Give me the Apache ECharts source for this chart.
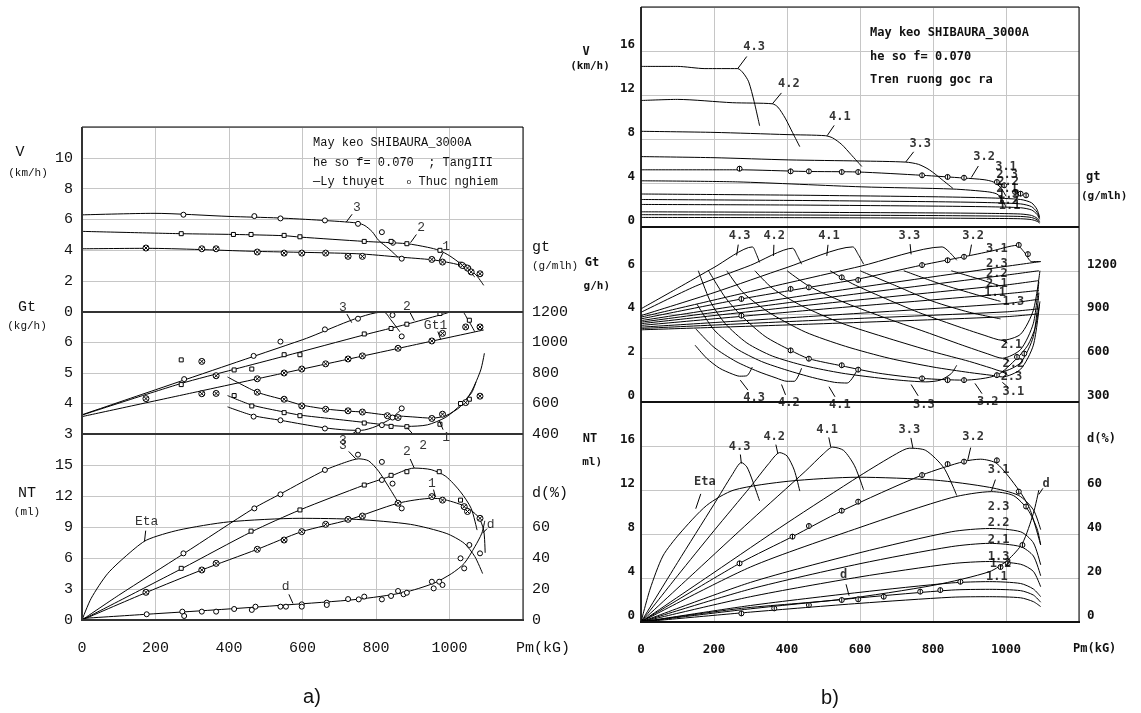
<!DOCTYPE html>
<html><head><meta charset="utf-8">
<script src="https://cdn.jsdelivr.net/npm/echarts/dist/echarts.min.js"></script>
<style>html,body{margin:0;padding:0;background:#fff}#c{width:1141px;height:713px}</style>
</head><body><div id="c"></div>
<script>
const FA='Liberation Mono', FB='DejaVu Sans Mono';
// ---------- tick labels ----------
const pmTicks=[0,200,400,600,800,1000];
const aVTicks=[0,2,4,6,8,10];
const aGtTicks=[3,4,5,6];
const agtTicks=[400,600,800,1000,1200];
const aNTTicks=[0,3,6,9,12,15];
const aDTicks=[0,20,40,60];
const bVTicks=[0,4,8,12,16];
const bGtTicks=[0,2,4,6];
const bgtTicks=[300,600,900,1200];
const bNTTicks=[0,4,8,12,16];
const bDTicks=[0,20,40,60];

// ---------- panel a : V (km/h) ----------
const aV3=[[0,6.3],[196,6.4],[400,6.2],[535,6.1],[650,5.95],[750,5.77],[770,5.6],[790,5.2],[807,4.65],[835,4.1],[860,3.55]];
const aV2=[[0,5.23],[268,5.08],[414,5.03],[550,4.95],[593,4.86],[768,4.58],[884,4.43],[940,4.2],[972,4.0],[1000,3.65],[1030,3.13],[1069,2.27]];
const aV1=[[0,4.1],[176,4.13],[477,3.93],[748,3.78],[865,3.56],[952,3.39],[991,3.24],[1030,3.02],[1069,2.48],[1093,1.73]];
const aV3pts=[[276,6.31],[469,6.22],[540,6.07],[661,5.94],[751,5.72],[816,5.18],[846,4.49],[870,3.46]];
const aV2pts=[[270,5.08],[412,5.03],[460,5.03],[550,4.97],[593,4.88],[768,4.58],[841,4.58],[884,4.43],[974,4.0],[1030,3.1],[1040,2.95],[1052,2.8]];
const aV1pts=[[174,4.15],[326,4.1],[365,4.1],[477,3.89],[550,3.82],[598,3.82],[663,3.82],[724,3.61],[763,3.61],[952,3.41],[981,3.24],[1035,3.02],[1049,2.85],[1059,2.6],[1083,2.48]];
// ---------- panel a : Gt (kg/h) ----------
const aGt3=[[0,3.63],[200,4.45],[400,5.27],[600,6.09],[821,7.0],[840,6.75],[865,6.35]];
const aGt2=[[0,3.62],[268,4.65],[414,5.12],[550,5.55],[768,6.25],[884,6.6],[974,6.9],[1030,7.07],[1050,6.75],[1069,6.35]];
const aGt1=[[0,3.57],[300,4.35],[600,5.13],[900,5.91],[1093,6.41]];
const aGt3pts=[[278,4.8],[467,5.56],[540,6.03],[661,6.43],[751,6.78],[816,7.16],[845,6.9],[870,6.2]];
const aGt2pts=[[270,5.43],[270,4.62],[414,5.1],[462,5.13],[550,5.6],[593,5.6],[768,6.28],[841,6.46],[884,6.6],[974,6.95],[1030,7.16],[1054,6.73]];
const aGt1pts=[[174,4.16],[326,5.38],[326,4.32],[365,4.91],[365,4.33],[477,4.81],[550,5.0],[598,5.13],[663,5.3],[724,5.46],[763,5.56],[860,5.81],[952,6.05],[981,6.3],[1044,6.51],[1083,6.51]];
// ---------- panel a : gt (g/mlh) ----------
const agt1=[[396,774],[477,674],[550,624],[598,590],[663,564],[724,550],[763,544],[831,524],[900,512],[952,504],[990,520],[1030,580],[1060,680],[1085,820],[1095,930]];
const agt2=[[396,652],[462,590],[550,544],[593,524],[680,500],[768,476],[841,456],[884,450],[940,460],[990,510],[1030,590],[1060,670],[1072,740]];
const agt3=[[396,578],[467,520],[540,490],[600,464],[661,440],[720,426],[760,424],[800,450],[840,500],[870,564]];
const agt3pts=[[467,514],[540,490],[661,436],[751,422],[816,458],[845,508],[870,568]];
const agt2pts=[[414,652],[462,584],[550,540],[593,520],[768,472],[841,450],[884,448],[974,464],[1030,600],[1054,628]];
const agt1pts=[[477,674],[550,628],[598,584],[663,562],[724,552],[763,544],[831,520],[860,508],[952,502],[981,530],[1044,606],[1083,648]];
// ---------- panel a : NT (ml), Eta & d (%) ----------
const aNT3=[[0,0],[100,2.4],[276,6.4],[467,10.8],[540,12.2],[661,14.5],[720,15.3],[753,15.6],[780,15.4],[807,14.4],[836,12.8],[860,11.4]];
const aNT2=[[0,0],[273,5.0],[462,8.55],[593,10.65],[768,13.06],[836,13.87],[904,14.7],[950,14.55],[990,13.9],[1030,12.4],[1059,10.8],[1075,8.7]];
const aNT1=[[0,0],[176,2.68],[326,4.84],[477,6.84],[598,8.55],[724,9.68],[860,11.3],[952,11.77],[981,11.7],[1040,11.03],[1078,10.0],[1093,8.7],[1097,6.5]];
const aNT3pts=[[276,6.45],[469,10.8],[540,12.16],[661,14.52],[751,16.0],[816,15.3],[816,13.55],[845,13.2],[870,10.8]];
const aNT2pts=[[270,5.0],[460,8.6],[593,10.65],[768,13.06],[841,14.0],[884,14.35],[972,14.35],[1030,11.6]];
const aNT1pts=[[174,2.68],[326,4.84],[365,5.48],[477,6.84],[550,7.74],[598,8.55],[663,9.26],[724,9.74],[763,10.06],[860,11.3],[952,11.94],[981,11.6],[1040,10.97],[1049,10.5],[1083,9.84]];
const aEta=[[0,0],[25,14],[70,30],[128,43],[176,51.6],[263,58],[399,63.3],[593,65.6],[748,64.9],[894,61.7],[991,55.9],[1040,49.5],[1069,40.9],[1090,30]];
const aD=[[0,1.0],[176,3.7],[360,6.5],[554,9.7],[748,13.3],[875,17.7],[957,23.7],[1006,30],[1040,36.5],[1069,47.3],[1088,56],[1096,64]];
const aDpts=[[176,3.7],[273,5.4],[278,2.6],[326,5.4],[365,5.4],[414,7.1],[462,6.5],[472,8.6],[540,8.6],[555,8.6],[598,10.1],[598,8.6],[666,11.2],[666,9.7],[724,13.5],[753,13.3],[768,15.1],[816,13.3],[841,15.5],[860,18.7],[875,16.6],[884,17.6],[952,24.7],[957,20.4],[972,24.7],[981,22.6],[1030,39.8],[1040,33.3],[1054,48.4],[1083,43]];

// ---------- panel b : V (km/h) per gear ----------
const bV43=[[0,14.6],[100,14.6],[175,14.4],[265,14.4],[280,14.0],[295,13.2],[310,11.4],[325,9.2]];
const bV42=[[0,11.5],[100,11.6],[250,11.3],[360,11.2],[375,10.9],[395,9.9],[415,8.6],[435,7.3]];
const bV41=[[0,8.7],[200,8.6],[400,8.4],[505,8.3],[525,8.1],[550,7.5],[575,6.6],[605,5.5]];
const bV33=[[0,6.4],[200,6.3],[405,6.1],[600,6.0],[725,5.9],[760,5.7],[790,5.2],[825,4.3],[855,3.5]];
const bV32=[[0,5.2],[265,5.2],[450,5.05],[595,5.0],[770,4.7],[885,4.45],[940,4.3],[965,4.1],[985,3.6],[1000,2.8]];
const bV31=[[0,4.2],[265,4.1],[605,3.65],[855,3.45],[950,3.2],[975,3.0],[990,2.5],[1000,1.8]];
const bV23=[[0,3.0],[400,2.9],[800,2.75],[950,2.65],[1040,2.5],[1070,2.2],[1085,1.6],[1092,0.9]];
const bV22=[[0,2.5],[400,2.42],[800,2.3],[950,2.22],[1040,2.1],[1070,1.85],[1085,1.35],[1092,0.8]];
const bV21=[[0,2.05],[400,2.0],[800,1.9],[950,1.84],[1040,1.75],[1070,1.55],[1085,1.15],[1092,0.7]];
const bV13=[[0,1.38],[400,1.34],[800,1.28],[950,1.24],[1040,1.18],[1070,1.05],[1085,0.8],[1092,0.5]];
const bV12=[[0,1.12],[400,1.09],[800,1.04],[950,1.0],[1040,0.96],[1070,0.86],[1085,0.66],[1092,0.42]];
const bV11=[[0,0.87],[400,0.85],[800,0.81],[950,0.78],[1040,0.75],[1070,0.67],[1085,0.52],[1092,0.35]];
const bVpts=[[270,5.3],[410,5.06],[460,5.06],[550,5.0],[595,5.0],[770,4.7],[840,4.55],[885,4.48],[975,4.09],[995,3.79],[1025,3.18],[1040,3.03],[1055,2.88]];
// ---------- panel b : Gt (kg/h) per gear ----------
const bGt43=[[0,4.26],[100,5.2],[200,6.15],[305,7.09],[315,6.8],[325,6.38]];
const bGt42=[[0,4.1],[150,5.3],[300,6.25],[415,7.03],[428,6.7],[440,6.3]];
const bGt41=[[0,3.95],[200,5.0],[400,6.15],[580,7.09],[595,6.75],[610,6.3]];
const bGt33=[[0,3.88],[300,5.05],[600,6.2],[825,7.09],[845,6.85],[865,6.48]];
const bGt32=[[0,3.8],[275,4.71],[460,5.24],[595,5.62],[770,6.26],[885,6.64],[960,6.9],[1030,7.16],[1050,6.85],[1070,6.42],[1095,6.42]];
const bGt31=[[0,3.72],[500,5.0],[1000,6.2],[1095,6.42]];
const bGt23=[[0,3.65],[500,4.75],[1000,5.8],[1090,6.0]];
const bGt22=[[0,3.58],[500,4.5],[1000,5.35],[1090,5.55]];
const bGt21=[[0,3.5],[500,4.25],[1000,4.95],[1090,5.1]];
const bGt13=[[0,3.42],[500,3.95],[1000,4.5],[1090,4.7]];
const bGt12=[[0,3.36],[500,3.75],[1000,4.12],[1090,4.26]];
const bGt11=[[0,3.3],[500,3.58],[1000,3.9],[1090,4.03]];
const bGtpts=[[275,4.71],[410,5.17],[460,5.24],[550,5.7],[595,5.58],[770,6.26],[840,6.48],[885,6.64],[1035,7.18],[1060,6.76]];
// ---------- panel b : gt (g/mlh) per gear ----------
const bgt43=[[148,690],[180,600],[215,532],[250,492],[270,477],[290,480],[305,540]];
const bgt42=[[150,802],[200,675],[260,578],[320,510],[370,465],[400,442],[420,442],[440,532]];
const bgt41=[[153,972],[200,795],[260,668],[330,578],[400,518],[470,468],[530,435],[565,430],[595,532]];
const bgt33=[[157,1200],[190,990],[230,840],[290,705],[360,615],[450,548],[550,498],[650,465],[720,447],[780,438],[820,450],[850,495],[865,552]];
const bgt32=[[185,1200],[230,1020],[275,892],[340,750],[410,654],[460,597],[550,548],[650,498],[770,462],[885,450],[975,484],[1030,600],[1060,690],[1080,810],[1093,990]];
const bgt31=[[235,1200],[280,1050],[350,915],[450,780],[560,682],[680,600],[800,540],[900,502],[960,483],[990,472],[1040,525],[1075,690],[1092,975]];
const bgt23=[[312,1200],[360,1080],[440,960],[550,840],[680,735],[800,645],[900,578],[960,532],[990,510],[1040,570],[1075,750],[1090,1050]];
const bgt22=[[400,1200],[460,1095],[550,990],[660,885],[780,780],[880,690],[950,630],[990,600],[1040,660],[1075,840],[1090,1125]];
const bgt21=[[518,1200],[580,1110],[660,1020],[760,915],[860,825],[940,758],[990,723],[1040,765],[1075,930],[1093,1200]];
const bgt13=[[600,1200],[700,1095],[800,990],[900,915],[985,870]];
const bgt12=[[720,1200],[820,1110],[920,1035],[985,990]];
const bgt11=[[850,1200],[930,1140],[985,1095]];
const bgtpts=[[275,892],[410,654],[460,597],[550,552],[595,522],[770,462],[840,450],[885,450],[975,484],[1030,609],[1050,632]];
// ---------- panel b : NT (ml) per gear, Eta & d (%) ----------
const bNT43=[[0,0],[100,5.4],[200,10.7],[250,13.4],[275,14.5],[290,14.1],[305,12.9],[325,11.0]];
const bNT42=[[0,0],[100,4.2],[200,8.3],[300,12.3],[350,14.4],[380,15.4],[400,15.1],[420,13.8],[435,11.9]];
const bNT41=[[0,0],[150,4.6],[300,9.2],[450,13.7],[500,15.3],[525,15.9],[555,15.6],[585,14.2],[610,12.0]];
const bNT33=[[0,0],[200,4.5],[400,9.0],[600,13.3],[700,15.3],[735,15.8],[780,15.6],[830,14.0],[865,11.5]];
const bNT32=[[0,0],[270,5.33],[415,7.76],[550,10.1],[770,13.36],[885,14.6],[930,14.8],[975,14.4],[1035,12.0],[1065,10.3],[1095,7.0]];
const bNT31=[[0,0],[300,5.0],[600,8.6],[850,11.3],[960,11.85],[1020,11.5],[1060,10.2],[1085,8.5],[1095,7.0]];
const bNT23=[[0,0],[300,3.6],[600,6.3],[850,8.2],[955,8.5],[1040,8.2],[1075,7.2],[1095,5.2]];
const bNT22=[[0,0],[300,3.0],[600,5.3],[850,6.85],[955,7.15],[1040,6.85],[1075,6.0],[1095,4.2]];
const bNT21=[[0,0],[300,2.3],[600,4.1],[850,5.3],[955,5.5],[1040,5.25],[1075,4.6],[1095,3.2]];
const bNT13=[[0,0],[300,1.5],[600,2.7],[850,3.55],[955,3.67],[1040,3.5],[1075,3.0],[1095,2.3]];
const bNT12=[[0,0],[300,1.2],[600,2.2],[850,2.9],[955,2.97],[1040,2.85],[1075,2.45],[1095,1.8]];
const bNT11=[[0,0],[300,0.9],[600,1.7],[850,2.25],[955,2.3],[1040,2.2],[1075,1.85],[1095,1.4]];
const bNTpts=[[270,5.33],[415,7.76],[460,8.73],[550,10.12],[595,10.94],[770,13.36],[840,14.36],[885,14.58],[975,14.7],[1035,11.85],[1055,10.5],[1045,7.0],[1005,5.33],[985,5.0]];
const bEta=[[0,0],[25,15],[60,30],[105,40],[180,53],[255,60],[405,64],[595,65.8],[805,64.5],[955,61.2],[1035,57.5],[1075,51],[1095,42]];
const bD=[[0,0],[275,6.2],[550,10.3],[805,16.8],[955,22.9],[1005,28.2],[1045,35.8],[1075,49.4],[1090,60]];
const bDpts=[[275,3.9],[365,6.2],[460,7.7],[550,10],[595,10.3],[665,11.5],[765,13.8],[820,14.5],[875,18.3]];

// ---------- curve labels: [text, x, y, leaderTargetX, leaderTargetY] ----------
const aVann=[['3',748,6.76,719,5.83],['2',923,5.46,894,4.5],['1',991,4.25,972,3.35]];
const aGtann=[['3',710,7.16,734,6.65],['2',884,7.18,904,6.72],['Gt1',962,6.57,976,6.1]];
const agtann=[['3',710,356,748,422],['2',928,324,884,444],['1',991,378,972,490]];
const aNTann=[['3',710,16.9,745,15.6],['2',884,16.3,904,14.7],['1',952,13.2,962,11.9],['Eta',176,9.5,170,7.6],['d',554,3.2,574,1.6],['d',1112,9.2,1090,8.4]];
const bVann=[['4.3',310,16.4,265,14.4],['4.2',405,13.0,360,11.2],['4.1',545,10.0,510,8.3],['3.3',765,7.6,725,5.9],['3.2',940,6.4,905,4.5],['3.1',1000,5.45],['2.3',1003,4.7],['2.2',1006,4.1],['2.1',1003,3.5],['1.3',1008,2.9],['1.2',1006,2.4],['1.1',1010,1.9]];
const bGtann=[['4.3',270,7.6,262,6.7],['4.2',365,7.6,363,6.68],['4.1',515,7.6,509,6.68],['3.3',735,7.6,740,6.75],['3.2',910,7.6,900,6.7],['3.1',975,7.0],['2.3',975,6.3],['2.2',975,5.85],['2.1',975,5.4],['1.1',970,5.0],['1.3',1020,4.56],
  ['4.3',310,0.17,272,1.0],['4.2',405,-0.06,385,0.8],['4.1',545,-0.14,515,0.7],['3.3',775,-0.14,740,0.8],['3.2',950,0.0,915,0.85],['2.1',1015,2.6,990,2.82],['2.2',1020,1.76,995,2.0],['2.3',1015,1.15,990,1.38],['3.1',1020,0.47,990,0.9]];
const bNTann=[['4.3',270,15.9,275,14.4],['4.2',365,16.8,375,15.3],['4.1',510,17.5,520,15.9],['3.3',735,17.5,745,15.8],['3.2',910,16.8,895,14.7],['3.1',980,13.8,960,11.9],['2.3',980,10.5],['2.2',980,9.0],['2.1',980,7.45],['1.3',980,5.9],['1.2',985,5.3],['1.1',975,4.1],['Eta',175,12.75,150,10.3],['d',1110,12.6,1090,11.6],['d',555,4.27,570,2.4]];

// ---------- build ----------
const chart=echarts.init(document.getElementById('c'),null,{renderer:'canvas'});
const grids=[
 {left:82,width:441,top:127,height:185},{left:82,width:441,top:312,height:122},{left:82,width:441,top:434,height:186},
 {left:641,width:438,top:7,height:220},{left:641,width:438,top:227,height:175},{left:641,width:438,top:402,height:220}
].map(g=>Object.assign({show:false},g));
function xA(gi,showLab,fam,fs,fw){
  return {gridIndex:gi,type:'value',min:0,max:1200,interval:200,axisLine:{show:false},axisTick:{show:false},
    splitLine:{show:true,lineStyle:{color:'#c6c6c6',width:1}},
    axisLabel:{show:showLab,margin:21,fontFamily:fam,fontSize:fs,fontWeight:fw,color:'#111',
      formatter:v=>pmTicks.includes(v)?String(v):''}};
}
function yA(gi,min,max,iv,ticks,pos,fam,fs,fw,margin,va,split){
  return {gridIndex:gi,type:'value',position:pos,min,max,interval:iv,axisLine:{show:false},axisTick:{show:false},
    splitLine:{show:split,lineStyle:{color:'#c6c6c6',width:1}},
    axisLabel:{show:true,margin,fontFamily:fam,fontSize:fs,fontWeight:fw,color:'#111',verticalAlign:va,
      formatter:v=>ticks.includes(v)?String(v):''}};
}
const xAxis=[xA(0,false,FA,15,'normal'),xA(1,false,FA,15,'normal'),xA(2,true,FA,15,'normal'),
  xA(3,false,FB,12.5,'bold'),xA(4,false,FB,12.5,'bold'),xA(5,true,FB,12.5,'bold')];
const yAxis=[
  yA(0,0,12,2,aVTicks,'left',FA,15,'normal',9,'middle',true),
  yA(1,3,7,1,aGtTicks,'left',FA,15,'normal',9,'middle',true),
  yA(1,400,1200,200,agtTicks,'right',FA,15,'normal',9,'middle',false),
  yA(2,0,18,3,aNTTicks,'left',FA,15,'normal',9,'middle',true),
  yA(2,0,120,20,aDTicks,'right',FA,15,'normal',9,'middle',false),
  yA(3,0,20,4,bVTicks,'left',FB,12.5,'bold',6,'bottom',true),
  yA(4,0,8,2,bGtTicks,'left',FB,12.5,'bold',6,'bottom',true),
  yA(4,300,1500,300,bgtTicks,'right',FB,12.5,'bold',8,'bottom',false),
  yA(5,0,20,4,bNTTicks,'left',FB,12.5,'bold',6,'bottom',true),
  yA(5,0,100,20,bDTicks,'right',FB,12.5,'bold',8,'bottom',false)
];
const S=[];
function L(data,xi,yi){S.push({type:'line',xAxisIndex:xi,yAxisIndex:yi,data,symbol:'none',showSymbol:false,smooth:0.25,
  lineStyle:{color:'#000',width:1},silent:true,z:3});}
const CIRC='path://M10,0A10,10,0,1,1,9.99,0Z';
const SQR='path://M0,0L20,0L20,20L0,20Z';
const CROSS='path://M10,0A10,10,0,1,1,9.99,0ZM3,3L17,17M17,3L3,17';
const PLUS='path://M10,0A10,10,0,1,1,9.99,0ZM10,0L10,20';
function P(data,xi,yi,sym,size){S.push({type:'scatter',xAxisIndex:xi,yAxisIndex:yi,data,symbol:sym,symbolSize:size,
  itemStyle:{color:'#fff',borderColor:'#000',borderWidth:1,opacity:1},silent:true,z:4});}
function A(list,xi,yi,fam,fs,fw){
  S.push({type:'scatter',xAxisIndex:xi,yAxisIndex:yi,clip:false,symbol:'circle',symbolSize:1,itemStyle:{color:'rgba(0,0,0,0)'},
    data:list.map(a=>({value:[a[1],a[2]],name:a[0]})),silent:true,z:6,
    label:{show:true,position:'inside',formatter:'{b}',fontFamily:fam,fontSize:fs,fontWeight:fw,color:'#000'}});
  const lead=list.filter(a=>a.length>3).map(a=>({coords:[[a[1]+0.45*(a[3]-a[1]),a[2]+0.45*(a[4]-a[2])],[a[3],a[4]]]}));
  S.push({type:'lines',coordinateSystem:'cartesian2d',xAxisIndex:xi,yAxisIndex:yi,data:lead,polyline:false,
    lineStyle:{color:'#000',width:1,opacity:1,curveness:0},silent:true,z:5});
}
// panel a
[aV3,aV2,aV1].forEach(d=>L(d,0,0));
P(aV3pts,0,0,CIRC,5);P(aV2pts,0,0,SQR,4);P(aV1pts,0,0,CROSS,6);
[aGt3,aGt2,aGt1].forEach(d=>L(d,1,1));
[agt3,agt2,agt1].forEach(d=>L(d,1,2));
P(aGt3pts,1,1,CIRC,5);P(aGt2pts,1,1,SQR,4);P(aGt1pts,1,1,CROSS,6);
P(agt3pts,1,2,CIRC,5);P(agt2pts,1,2,SQR,4);P(agt1pts,1,2,CROSS,6);
[aNT3,aNT2,aNT1].forEach(d=>L(d,2,3));
L(aEta,2,4);L(aD,2,4);
P(aNT3pts,2,3,CIRC,5);P(aNT2pts,2,3,SQR,4);P(aNT1pts,2,3,CROSS,6);P(aDpts,2,4,CIRC,5);
A(aVann,0,0,FA,13,'normal');A(aGtann,1,1,FA,13,'normal');A(agtann,1,2,FA,13,'normal');A(aNTann,2,3,FA,13,'normal');
// panel b
[bV43,bV42,bV41,bV33,bV32,bV31,bV23,bV22,bV21,bV13,bV12,bV11].forEach(d=>L(d,3,5));
P(bVpts,3,5,PLUS,5);
[bGt43,bGt42,bGt41,bGt33,bGt32,bGt31,bGt23,bGt22,bGt21,bGt13,bGt12,bGt11].forEach(d=>L(d,4,6));
[bgt43,bgt42,bgt41,bgt33,bgt32,bgt31,bgt23,bgt22,bgt21,bgt13,bgt12,bgt11].forEach(d=>L(d,4,7));
P(bGtpts,4,6,PLUS,5);P(bgtpts,4,7,PLUS,5);
[bNT43,bNT42,bNT41,bNT33,bNT32,bNT31,bNT23,bNT22,bNT21,bNT13,bNT12,bNT11].forEach(d=>L(d,5,8));
L(bEta,5,9);L(bD,5,9);
P(bNTpts,5,8,PLUS,5);P(bDpts,5,9,PLUS,5);
A(bVann,3,5,FB,12,'bold');A(bGtann,4,6,FB,12,'bold');A(bNTann,5,8,FB,12,'bold');

// ---------- frames and texts ----------
function T(x,y,s,fam,fs,fw,al,extra){
  const st={text:s,fontFamily:fam,fontSize:fs,fontWeight:fw||'normal',fill:'#111',
    align:al||'center',verticalAlign:'middle',textAlign:al||'center',textVerticalAlign:'middle'};
  if(extra) Object.assign(st,extra);
  return {type:'text',x,y,z:100,style:st,silent:true};
}
function R(x,y,w,h,lw){return {type:'rect',z:99,silent:true,shape:{x,y,width:w,height:h},style:{fill:null,stroke:'#000',lineWidth:lw}};}
function H(x1,x2,y,lw,c){return {type:'line',z:99,silent:true,shape:{x1,y1:y,x2,y2:y},style:{stroke:c||'#111',lineWidth:lw}};}
function Vl(x,y1,y2,lw,c){return {type:'line',z:99,silent:true,shape:{x1:x,y1,x2:x,y2},style:{stroke:c||'#111',lineWidth:lw}};}
const graphic=[
  R(82,127,441,493,1), H(82,523,312,2,'#333'), H(82,523,434,2,'#333'), H(81,524,620,2,'#333'), Vl(82,127,620,2,'#333'),
  R(641,7,438,615,1), H(641,1079,227,2,'#111'), H(641,1079,402,2,'#111'), H(640,1080,622,2,'#111'), Vl(641,7,622,1.5,'#111'),
  // panel a texts
  T(20,152,'V',FA,15), T(28,173,'(km/h)',FA,11), T(27,307,'Gt',FA,15), T(27,326,'(kg/h)',FA,11),
  T(27,493,'NT',FA,15), T(27,512,'(ml)',FA,11),
  T(532,247,'gt',FA,15,'normal','left'), T(532,266,'(g/mlh)',FA,11,'normal','left'), T(532,493,'d(%)',FA,15,'normal','left'),
  T(516,648,'Pm(kG)',FA,15,'normal','left'),
  T(313,143,'May keo SHIBAURA_3000A',FA,12,'normal','left'),
  T(313,163,'he so f= 0.070  ; TangIII',FA,12,'normal','left'),
  T(313,182,'—Ly thuyet   {s|o} Thuc nghiem',FA,12,'normal','left',{rich:{s:{fontFamily:FA,fontSize:8,fill:'#111'}}}),
  T(312,697,'a)','Liberation Sans',20),
  // panel b texts
  T(586,52,'V',FB,12,'bold'), T(590,66,'(km/h)',FB,11,'bold'), T(592,263,'Gt',FB,12,'bold'), T(610,286,'g/h)',FB,11,'bold','right'),
  T(590,439,'NT',FB,12,'bold'), T(602,462,'ml)',FB,11,'bold','right'),
  T(1086,177,'gt',FB,12,'bold','left'), T(1081,196,'(g/mlh)',FB,11,'bold','left'), T(1087,439,'d(%)',FB,12,'bold','left'),
  T(1073,649,'Pm(kG)',FB,12,'bold','left'),
  T(870,33,'May keo SHIBAURA_3000A',FB,12,'bold','left'),
  T(870,57,'he so f= 0.070',FB,12,'bold','left'),
  T(870,80,'Tren ruong goc ra',FB,12,'bold','left'),
  T(830,698,'b)','Liberation Sans',20)
];
chart.setOption({animation:false,backgroundColor:'#fff',grid:grids,xAxis,yAxis,series:S,graphic});
</script></body></html>
